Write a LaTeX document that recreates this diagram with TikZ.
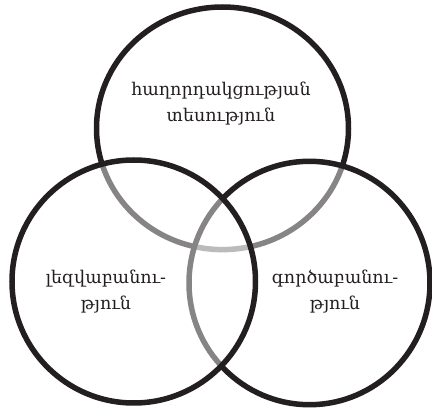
\documentclass[tikz,border=0pt]{standalone}
\usepackage{fontspec}
\setmainfont{DejaVu Serif}
\usetikzlibrary{shapes.geometric}
\definecolor{ink}{HTML}{231F20}
\begin{document}
\begin{tikzpicture}[x=1pt,y=-1pt,
  ring/.style={draw=ink, line width=5.5pt, ellipse, inner sep=0pt, outer sep=0pt},
  veil/.style={fill=white, fill opacity=0.45, draw opacity=1},
  lbl/.style={text=ink, font=\fontsize{17.5}{26}\selectfont, align=center, inner sep=0pt}]
\useasboundingbox (0,0) rectangle (432,409);
\node[ring, minimum width=252pt, minimum height=242.6pt] (topc) at (222.5,128.3) {};
\node[ring, veil, minimum width=241pt, minimum height=243.4pt] (rightc) at (309.5,283) {};
\node[ring, veil, minimum width=243.5pt, minimum height=243pt] (leftc) at (133.75,281.5) {};
\node[lbl] (toplbl) at (221,104) {հաղորդակցության\\տեսություն};
\node[lbl] (leftlbl) at (106,292) {լեզվաբանու-\\թյուն};
\node[lbl] (rightlbl) at (335,292) {գործաբանու-\\թյուն};
\end{tikzpicture}
\end{document}
